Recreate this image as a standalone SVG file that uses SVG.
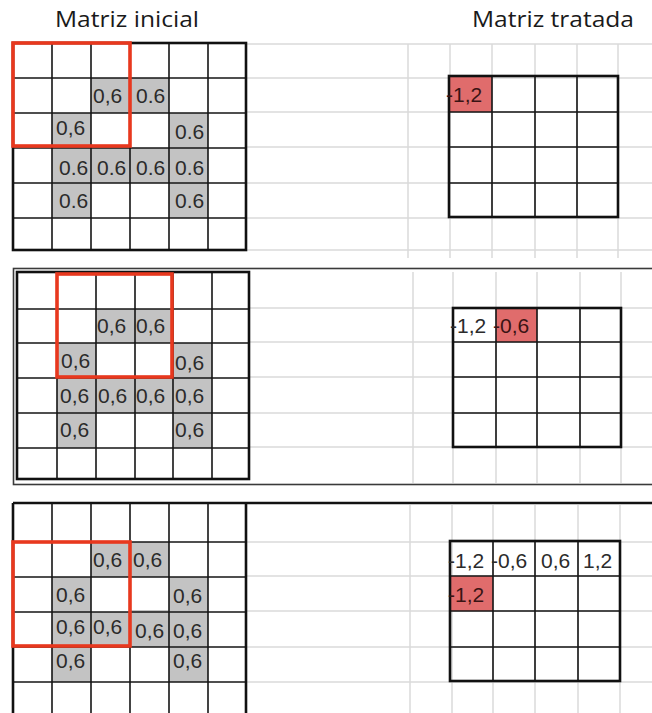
<svg xmlns="http://www.w3.org/2000/svg" width="652" height="713" viewBox="0 0 652 713">
<style>
.bg{fill:#ffffff}
.faint{stroke:#dadada;stroke-width:1.5;fill:none}
.grid{stroke:#161616;stroke-width:1.6;fill:none}
.frame{stroke:#111;stroke-width:2.6;fill:none}
.gray{fill:#c3c3c3}
.hot{fill:#e06c6c}
.sel{stroke:#e8381e;stroke-width:3.6;fill:none}
.v{font-family:"Liberation Sans",Arial,sans-serif;font-size:21px;fill:#2b2b2b}
.vr{font-family:"Liberation Sans",Arial,sans-serif;font-size:21px;fill:#3a1414}
.title{font-family:"Open Sans","Noto Sans",sans-serif;font-size:21px;fill:#1a1a1a}
.panel{stroke:#3a3a3a;stroke-width:1.6;fill:none}
</style>
<rect class="bg" x="0" y="0" width="652" height="713"/>

<!-- titles -->
<g id="titles">
<text class="title" x="55" y="27" textLength="144" lengthAdjust="spacingAndGlyphs">Matriz inicial</text>
<text class="title" x="472" y="27" textLength="162" lengthAdjust="spacingAndGlyphs">Matriz tratada</text>
</g>

<!-- faint spreadsheet background -->
<g id="background-grid">
<path class="faint" d="M246 44H652M246 78H652M246 112H652M246 147H652M246 183H652M246 218H652M246 250H652M408 44V258M450 44V258M492 44V258M535 44V258M577 44V258M618 44V258"/>
<path class="faint" d="M249 308H652M249 342H652M249 377H652M249 413H652M249 447H652M413 272V483M453 272V483M496 272V483M537 272V483M580 272V483M621 272V483"/>
<path class="faint" d="M246 542H652M246 576H652M246 611H652M246 647H652M246 682H652M410 505V713M452 505V713M493 505V713M535 505V713M578 505V713M620 505V713"/>
</g>

<!-- panel 1 -->
<g id="panel1-input">
<rect class="gray" x="91" y="78" width="39" height="35"/>
<rect class="gray" x="130" y="78" width="39" height="35"/>
<rect class="gray" x="52" y="113" width="39" height="35"/>
<rect class="gray" x="169" y="113" width="39" height="35"/>
<rect class="gray" x="52" y="148" width="39" height="35"/>
<rect class="gray" x="91" y="148" width="39" height="35"/>
<rect class="gray" x="130" y="148" width="39" height="35"/>
<rect class="gray" x="169" y="148" width="39" height="35"/>
<rect class="gray" x="52" y="183" width="39" height="35"/>
<rect class="gray" x="169" y="183" width="39" height="35"/>
<path class="grid" d="M52 43V250M91 43V250M130 43V250M169 43V250M208 43V250M13 78H246M13 113H246M13 148H246M13 183H246M13 218H246"/>
<rect class="frame" x="13" y="43" width="233" height="207"/>
<text class="v" x="93" y="103">0,6</text>
<text class="v" x="136" y="103">0.6</text>
<text class="v" x="56" y="135">0,6</text>
<text class="v" x="175" y="139">0.6</text>
<text class="v" x="59" y="175">0.6</text>
<text class="v" x="97" y="175">0.6</text>
<text class="v" x="136" y="175">0.6</text>
<text class="v" x="175" y="175">0.6</text>
<text class="v" x="59" y="208">0.6</text>
<text class="v" x="175" y="208">0.6</text>
<rect class="sel" x="13" y="43" width="117" height="103"/>
</g>
<g id="panel1-output">
<rect class="hot" x="449" y="76" width="43" height="36"/>
<path class="grid" d="M492 76V217M535 76V217M577 76V217M449 112H618M449 147H618M449 183H618"/>
<rect class="frame" x="449" y="76" width="169" height="141"/>
<text class="vr" x="446" y="102">-1,2</text>
</g>

<!-- panel 2 -->
<rect class="panel" x="13.5" y="268.5" width="650" height="216"/>
<g id="panel2-input">
<rect class="gray" x="96" y="309" width="39" height="34"/>
<rect class="gray" x="135" y="309" width="38" height="34"/>
<rect class="gray" x="57" y="343" width="39" height="35"/>
<rect class="gray" x="173" y="343" width="39" height="35"/>
<rect class="gray" x="57" y="378" width="39" height="35"/>
<rect class="gray" x="96" y="378" width="39" height="35"/>
<rect class="gray" x="135" y="378" width="38" height="35"/>
<rect class="gray" x="173" y="378" width="39" height="35"/>
<rect class="gray" x="57" y="413" width="39" height="35"/>
<rect class="gray" x="173" y="413" width="39" height="35"/>
<path class="grid" d="M57 272V479M96 272V479M135 272V479M173 272V479M212 272V479M17 309H249M17 343H249M17 378H249M17 413H249M17 448H249"/>
<rect class="frame" x="17" y="272" width="232" height="207"/>
<text class="v" x="97" y="333">0,6</text>
<text class="v" x="136" y="333">0,6</text>
<text class="v" x="61" y="368">0,6</text>
<text class="v" x="175" y="370">0,6</text>
<text class="v" x="60" y="403">0,6</text>
<text class="v" x="98" y="403">0,6</text>
<text class="v" x="136" y="403">0,6</text>
<text class="v" x="175" y="403">0,6</text>
<text class="v" x="60" y="437">0,6</text>
<text class="v" x="175" y="437">0,6</text>
<rect class="sel" x="57" y="274" width="115" height="103"/>
</g>
<g id="panel2-output">
<rect class="hot" x="496" y="308" width="41" height="34"/>
<path class="grid" d="M496 308V447M537 308V447M580 308V447M453 342H621M453 377H621M453 413H621"/>
<rect class="frame" x="453" y="308" width="168" height="139"/>
<text class="v" x="450" y="333">-1,2</text>
<text class="vr" x="493" y="333">-0,6</text>
</g>

<!-- panel 3 -->
<path class="frame" d="M13 503H652"/>
<g id="panel3-input">
<rect class="gray" x="91" y="542" width="39" height="35"/>
<rect class="gray" x="130" y="542" width="39" height="35"/>
<rect class="gray" x="52" y="577" width="39" height="35"/>
<rect class="gray" x="169" y="577" width="39" height="35"/>
<rect class="gray" x="52" y="612" width="39" height="35"/>
<rect class="gray" x="91" y="612" width="39" height="35"/>
<rect class="gray" x="130" y="610" width="39" height="37"/>
<rect class="gray" x="169" y="612" width="39" height="35"/>
<rect class="gray" x="52" y="647" width="39" height="35"/>
<rect class="gray" x="169" y="647" width="39" height="35"/>
<path class="grid" d="M52 503V713M91 503V713M130 503V713M169 503V713M208 503V713M13 542H246M13 577H246M13 612H246M13 647H246M13 682H246"/>
<path class="frame" d="M13 503V713M246 503V713"/>
<text class="v" x="93" y="567">0,6</text>
<text class="v" x="133" y="567">0,6</text>
<text class="v" x="56" y="602">0,6</text>
<text class="v" x="173" y="603">0,6</text>
<text class="v" x="56" y="634">0,6</text>
<text class="v" x="93" y="634">0,6</text>
<text class="v" x="135" y="638">0,6</text>
<text class="v" x="173" y="638">0,6</text>
<text class="v" x="56" y="668">0,6</text>
<text class="v" x="173" y="668">0,6</text>
<rect class="sel" x="13" y="542" width="117" height="104"/>
</g>
<g id="panel3-output">
<rect class="hot" x="450" y="576" width="43" height="35"/>
<path class="grid" d="M493 541V681M535 541V681M578 541V681M450 576H620M450 611H620M450 647H620"/>
<rect class="frame" x="450" y="541" width="170" height="140"/>
<text class="v" x="448" y="568">-1,2</text>
<text class="v" x="491" y="568">-0,6</text>
<text class="v" x="541" y="568">0,6</text>
<text class="v" x="583" y="568">1,2</text>
<text class="vr" x="448" y="602">-1,2</text>
</g>
</svg>
